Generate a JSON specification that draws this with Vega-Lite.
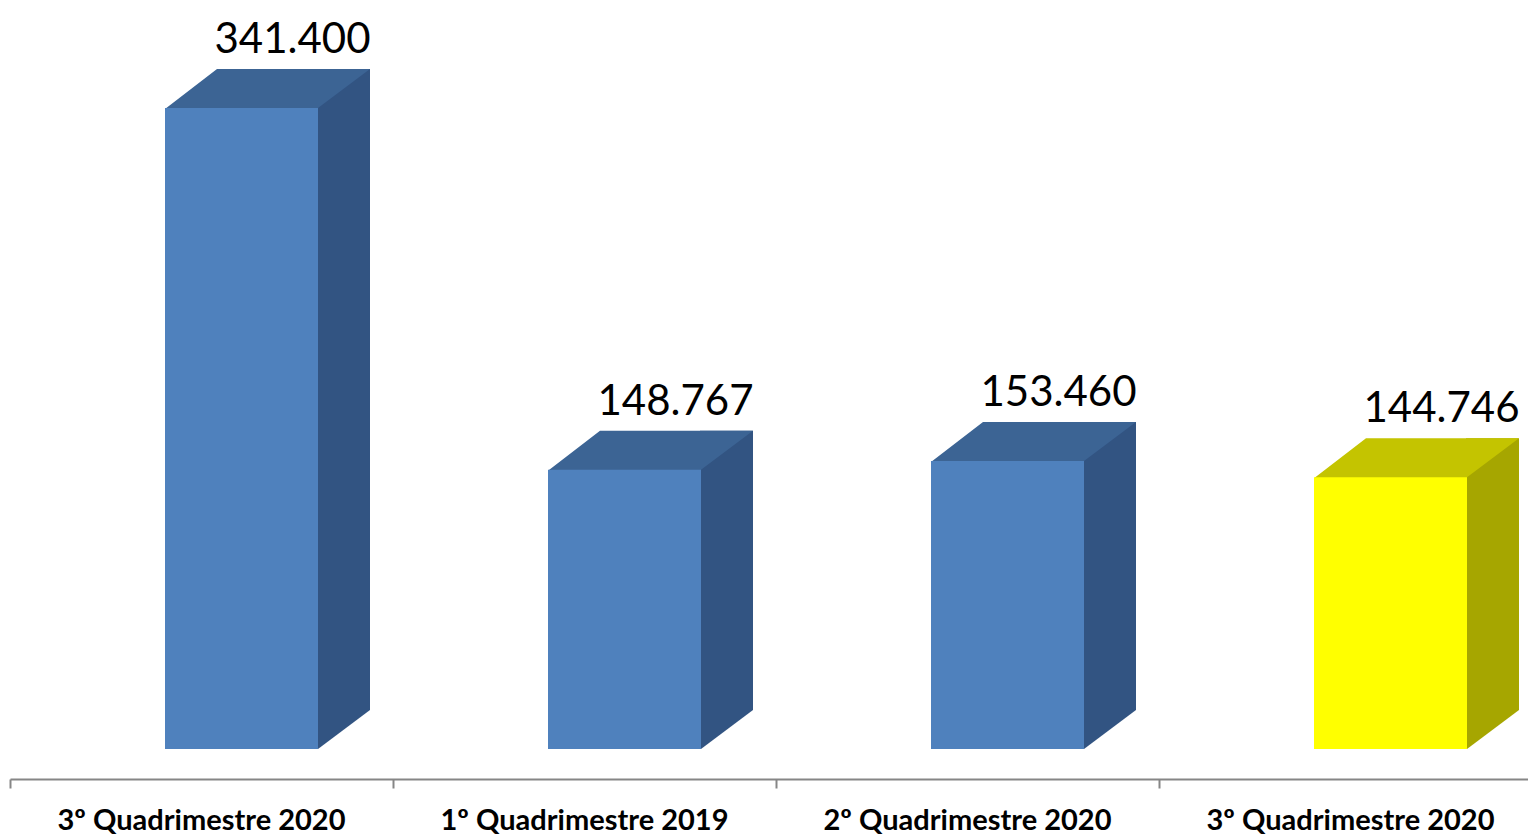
{
  "$schema": "https://vega.github.io/schema/vega-lite/v6.json",
  "autosize": "none",
  "width": 1518,
  "height": 751,
  "padding": {"left": 10, "top": 28, "right": 0, "bottom": 58},
  "background": "white",
  "config": {
    "view": {"stroke": null},
    "locale": {"number": {"decimal": ",", "thousands": ".", "grouping": [3], "currency": ["R$", ""]}}
  },
  "data": {
    "values": [
      {"periodo": "3º Quadrimestre 2020", "valor": 341400, "destaque": false},
      {"periodo": "1º Quadrimestre 2019", "valor": 148767, "destaque": false},
      {"periodo": "2º Quadrimestre 2020", "valor": 153460, "destaque": false},
      {"periodo": "3º Quadrimestre 2020 ", "valor": 144746, "destaque": true}
    ]
  },
  "encoding": {
    "x": {
      "field": "periodo",
      "type": "nominal",
      "sort": null,
      "scale": {"range": [0, 1532], "paddingInner": 0, "paddingOuter": 0},
      "axis": {
        "title": null,
        "bandPosition": 0,
        "labelOffset": 0,
        "labelAngle": 0,
        "labelFont": "Lato",
        "labelFontWeight": "bold",
        "labelFontSize": 29,
        "labelColor": "#000000",
        "labelBaseline": "alphabetic",
        "labelPadding": 41,
        "labelOverlap": false,
        "labelBound": false,
        "labelFlush": false,
        "labelLimit": 0,
        "tickSize": 9,
        "tickColor": "#868686",
        "tickWidth": 2,
        "domainColor": "#868686",
        "domainWidth": 2,
        "grid": false
      }
    }
  },
  "layer": [
    {
      "mark": {"type": "bar", "width": 53, "xOffset": 142, "yOffset": -69, "y2Offset": -69},
      "encoding": {
        "y": {"field": "valor", "type": "quantitative", "scale": {"domain": [0, 400000]}, "axis": null},
        "y2": {"datum": 0},
        "fill": {"condition": {"test": "datum.destaque", "value": "#a6a600"}, "value": "#325482"}
      }
    },
    {
      "mark": {"type": "point", "filled": true, "opacity": 1, "size": 4, "strokeWidth": 0, "xOffset": 116.5, "yOffset": -30,
        "shape": "M-1,-41 L52,-41 L52,-39 L0,0 L-1,0 Z"},
      "encoding": {
        "y": {"datum": 0, "type": "quantitative"},
        "fill": {"condition": {"test": "datum.destaque", "value": "#a6a600"}, "value": "#325482"}
      }
    },
    {
      "mark": {"type": "point", "filled": true, "opacity": 1, "size": 4, "strokeWidth": 0, "xOffset": -36.5, "yOffset": -30,
        "shape": "M0,1 L153,1 L153,0 L205,-39 L52,-39 Z"},
      "encoding": {
        "y": {"field": "valor", "type": "quantitative"},
        "fill": {"condition": {"test": "datum.destaque", "value": "#c4c400"}, "value": "#3c6494"}
      }
    },
    {
      "mark": {"type": "bar", "width": 153, "xOffset": 40, "yOffset": -30, "y2Offset": -30},
      "encoding": {
        "y": {"field": "valor", "type": "quantitative"},
        "y2": {"datum": 0},
        "fill": {"condition": {"test": "datum.destaque", "value": "#ffff00"}, "value": "#4f81bd"}
      }
    },
    {
      "mark": {"type": "text", "font": "Lato", "fontSize": 42, "color": "#000000", "align": "center", "baseline": "alphabetic", "xOffset": 91, "yOffset": -85},
      "encoding": {
        "y": {"field": "valor", "type": "quantitative"},
        "text": {"field": "valor", "type": "quantitative", "format": ",d"}
      }
    }
  ]
}
